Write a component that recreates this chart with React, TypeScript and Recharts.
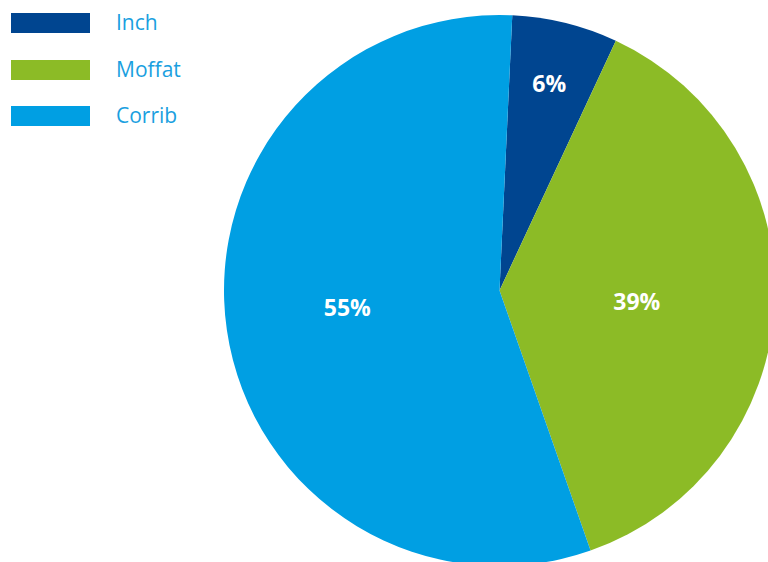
import React from "react";
import { PieChart, Pie, Cell } from "recharts";

const categories = ["Inch", "Moffat", "Corrib"];
const shares = [6.2, 37.7, 56.1];
const labelTexts = ["6%", "39%", "55%"];
const colors = ["#004590", "#8cbb26", "#009fe3"];

const data = categories.map((name, i) => ({ name, value: shares[i], label: labelTexts[i] }));

const RAD = Math.PI / 180;
const START = 87.34;
const LABEL_RADIUS_FACTOR = [0.775, 0.5, 0.556];

const renderLabel = (props: any) => {
  const { cx, cy, outerRadius, index } = props;
  // place labels by their displayed percentages
  let cum = 0;
  for (let i = 0; i < index; i++) cum += parseFloat(labelTexts[i]);
  const mid = START - (cum + parseFloat(labelTexts[index]) / 2) * 3.6;
  const r = outerRadius * LABEL_RADIUS_FACTOR[index];
  const x = cx + r * Math.cos(-mid * RAD);
  const y = cy + r * Math.sin(-mid * RAD);
  return (
    <text
      x={x}
      y={y}
      fill="#ffffff"
      textAnchor="middle"
      dominantBaseline="central"
      fontFamily="'Open Sans', sans-serif"
      fontWeight={700}
      fontSize={23}
    >
      {data[index].label}
    </text>
  );
};

const LegendBox = () => (
  <div style={{ position: "absolute", left: 11, top: 13, width: 200, height: 140 }}>
    {data.map((d, i) => (
      <div
        key={d.name}
        style={{ position: "absolute", left: 0, top: i * 46.7, height: 20, display: "flex", alignItems: "center" }}
      >
        <div style={{ width: 79, height: 20, background: colors[i] }} />
        <span
          style={{
            marginLeft: 26,
            fontFamily: "'Open Sans', sans-serif",
            fontSize: 21,
            color: "#1a9fe0",
            lineHeight: "20px",
            position: "relative",
            top: -1,
            whiteSpace: "nowrap",
          }}
        >
          {d.name}
        </span>
      </div>
    ))}
  </div>
);

export default function App() {
  return (
    <div style={{ position: "fixed", left: 0, top: 0, width: 768, height: 562, background: "#fff" }}>
      <PieChart width={768} height={562} margin={{ top: 0, right: 0, bottom: 0, left: 0 }}>
        <Pie
          data={data}
          dataKey="value"
          nameKey="name"
          cx={499.5}
          cy={290.5}
          outerRadius={275.5}
          startAngle={START}
          endAngle={START - 360}
          stroke="none"
          label={renderLabel}
          labelLine={false}
          isAnimationActive={false}
        >
          {data.map((d, i) => (
            <Cell key={d.name} fill={colors[i]} />
          ))}
        </Pie>
      </PieChart>
      <LegendBox />
    </div>
  );
}
